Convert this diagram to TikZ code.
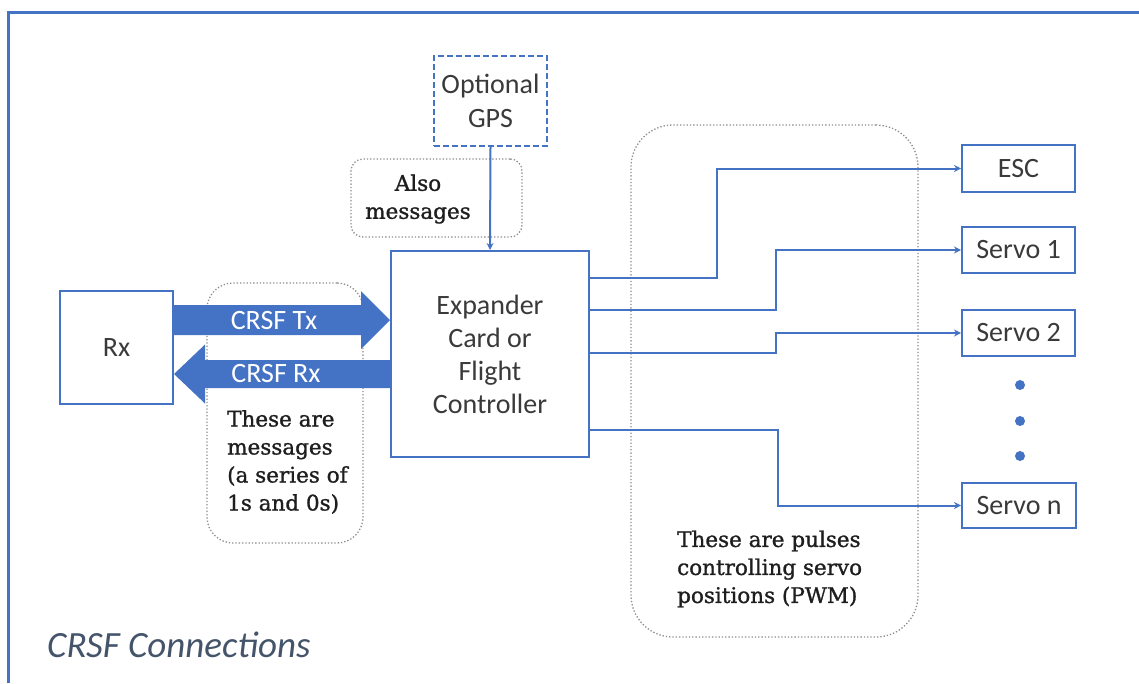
\documentclass[tikz,border=0pt]{standalone}
\usepackage{fontspec}
\setmainfont{Carlito}
\newfontfamily\notefont{DejaVu Serif}[FakeBold=1.2]
\usetikzlibrary{arrows.meta,calc}
\definecolor{wblue}{HTML}{4472C4}
\definecolor{tgray}{HTML}{3A3A3A}
\definecolor{capcol}{HTML}{44546A}
\definecolor{dotgray}{HTML}{8C8C8C}
\definecolor{notecol}{HTML}{1E1E1E}
\begin{document}
\begin{tikzpicture}[x=1pt,y=-1pt,
  box/.style={draw=wblue, line width=2pt, text=tgray, font=\fontsize{28}{33}\selectfont, align=center, inner sep=0pt},
  gpsbox/.style={box, dashed, dash pattern=on 6pt off 3pt},
  note/.style={draw=dotgray, dotted, line width=1.3pt, rounded corners=#1, inner sep=0pt},
  notetext/.style={text=notecol, font=\notefont\fontsize{21.5}{28}\selectfont, inner sep=0pt},
  lbl/.style={text=white, font=\fontsize{28}{30}\selectfont, inner sep=0pt},
  wire/.style={draw=wblue, line width=2pt, -{Stealth[length=7pt,width=7pt]}},
  dotn/.style={circle, fill=wblue, minimum size=10pt, inner sep=0pt},
]
\useasboundingbox (0,0) rectangle (1139,683);
% frame
\draw[wblue, line width=3pt] (8,683) -- (8,12) -- (1139,12);

% dotted note boxes
\node[note=12pt, minimum width=171pt, minimum height=78pt] (alsobox) at (436.5,198) {};
\node[note=26pt, minimum width=156pt, minimum height=260pt] (msgbox) at (285,413) {};
\node[note=42pt, minimum width=287pt, minimum height=512pt] (pwmbox) at (774.5,381) {};

% main boxes
\node[gpsbox, minimum width=113pt, minimum height=90pt] (gps) at (490.5,101) {Optional\\[1pt]GPS};
\node[box, minimum width=198pt, minimum height=206pt] (exp) at (490,354) {Expander\\Card or\\Flight\\Controller};
\node[box, minimum width=113pt, minimum height=113pt] (rx) at (116.5,347.5) {Rx};
\node[box, minimum width=113pt, minimum height=47pt] (esc) at (1018.5,168.5) {ESC};
\node[box, minimum width=113pt, minimum height=46pt] (s1) at (1018.5,250) {Servo 1};
\node[box, minimum width=113pt, minimum height=46pt] (s2) at (1018.5,333) {Servo 2};
\node[box, minimum width=114pt, minimum height=45pt] (sn) at (1019,505.5) {Servo n};
\node[dotn] (d1) at (1020,385) {};
\node[dotn] (d2) at (1020,421) {};
\node[dotn] (d3) at (1020,456) {};

% note texts
\node[notetext, align=center] (alsotxt) at (418,199) {Also\\messages};
\node[notetext, align=left, anchor=west] (msgtxt) at (227,462) {These are\\messages\\(a series of\\1s and 0s)};
\node[notetext, align=left, anchor=west] (pwmtxt) at (677,569) {These are pulses\\controlling servo\\positions (PWM)};

% block arrows
\coordinate (txy) at (0,320);
\coordinate (rxy) at (0,374);
\coordinate (txs) at (rx.east |- txy);
\coordinate (txt) at (exp.west |- txy);
\coordinate (rxs) at (exp.west |- rxy);
\coordinate (rxt) at (rx.east |- rxy);
\fill[wblue] ($(txs)+(0,-15)$) -- ($(txt)+(-29,-15)$) -- ($(txt)+(-29,-29)$) -- (txt)
  -- ($(txt)+(-29,29)$) -- ($(txt)+(-29,15)$) -- ($(txs)+(0,15)$) -- cycle;
\fill[wblue] ($(rxs)+(0,-14)$) -- ($(rxt)+(31,-14)$) -- ($(rxt)+(31,-29.5)$) -- (rxt)
  -- ($(rxt)+(31,29.5)$) -- ($(rxt)+(31,14)$) -- ($(rxs)+(0,14)$) -- cycle;
\node[lbl] (txlbl) at (274,321) {CRSF Tx};
\node[lbl] (rxlbl) at (276,374) {CRSF Rx};

% connectors
\draw[wire] (gps.south) -- (exp.north);
\coordinate (o1) at (exp.east |- 0,278);
\coordinate (o2) at (exp.east |- 0,310);
\coordinate (o3) at (exp.east |- 0,353);
\coordinate (o4) at (exp.east |- 0,430);
\coordinate (k1) at (717,0);
\coordinate (k2) at (776,0);
\coordinate (k3) at (778,0);
\draw[wire] (o1) -| (k1 |- esc.west) -- (esc.west);
\draw[wire] (o2) -| (k2 |- s1.west) -- (s1.west);
\draw[wire] (o3) -| (k2 |- s2.west) -- (s2.west);
\draw[wire] (o4) -| (k3 |- sn.west) -- (sn.west);

% caption
\node[anchor=base west, inner sep=0pt, text=capcol, font=\fontsize{37}{40}\selectfont\itshape] (cap) at (47,657) {CRSF Connections};
\end{tikzpicture}
\end{document}
